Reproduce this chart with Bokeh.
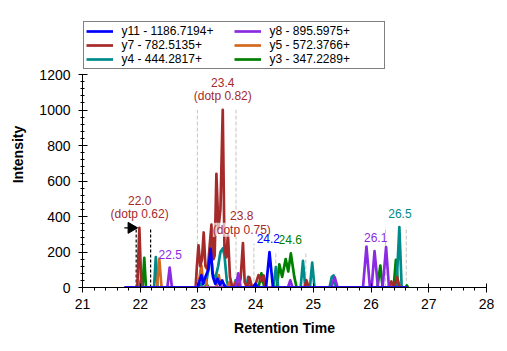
import numpy as np
from bokeh.plotting import figure
from bokeh.models import Legend, LegendItem, Label, SingleIntervalTicker, Range1d
from bokeh.embed import file_html
from bokeh.resources import INLINE

# ---------------- data ----------------
names = ["y11 - 1186.7194+", "y8 - 895.5975+", "y7 - 782.5135+",
         "y5 - 572.3766+", "y4 - 444.2817+", "y3 - 347.2289+"]
colors = ["#0000ff", "#8a2be2", "#a52a2a", "#d2691e", "#008b8b", "#008000"]

t_y11 = [21.73, 23.00, 23.03, 23.06, 23.09, 23.13, 23.18, 23.22, 23.26, 23.30, 23.34, 23.38,
         23.42, 23.46, 23.50, 23.96, 24.00, 24.04, 24.18, 24.24, 24.30, 26.64]
i_y11 = [0, 0, 40, 70, 20, 60, 100, 218, 60, 20, 50, 15,
         40, 10, 0, 0, 22, 0, 0, 199, 0, 0]

t_y8 = [21.73, 22.47, 22.51, 22.55, 22.98, 23.00, 23.03, 23.43, 23.46, 23.49, 23.65, 23.70,
        23.74, 24.56, 24.60, 24.64, 25.31, 25.37, 25.42, 25.86, 25.92, 25.98, 26.01, 26.06,
        26.12, 26.20, 26.26, 26.31, 26.64]
i_y8 = [0, 0, 112, 0, 0, 20, 0, 0, 15, 0, 0, 80,
        0, 0, 40, 0, 0, 58, 0, 0, 231, 0, 0, 205,
        0, 0, 227, 0, 0]

t_y7 = [21.73, 21.95, 21.985, 22.02, 22.96, 22.98, 23.01, 23.04, 23.07, 23.10, 23.13, 23.17,
        23.20, 23.235, 23.27, 23.29, 23.32, 23.355, 23.39, 23.43, 23.46, 23.49, 23.52, 23.555,
        23.59, 23.63, 23.66, 23.70, 23.74, 23.78, 23.81, 23.85, 23.89, 23.93, 24.00, 24.05,
        24.10, 24.14, 24.18, 24.85, 24.88, 24.92, 26.30, 26.35, 26.40, 26.45, 26.50, 26.64]
i_y7 = [0, 0, 336, 0, 0, 110, 237, 120, 160, 310, 120, 100,
        220, 355, 160, 180, 640, 330, 440, 1001, 220, 170, 300, 60,
        10, 0, 30, 0, 50, 250, 30, 0, 58, 0, 20, 70,
        35, 68, 0, 0, 40, 0, 0, 34, 0, 58, 0, 0]

t_y5 = [21.73, 22.29, 22.33, 22.37, 23.00, 23.06, 23.09, 23.13, 23.16, 23.32, 23.36, 23.40,
        23.52, 23.55, 23.58, 23.62, 23.66, 23.70, 23.86, 23.90, 23.94, 24.84, 24.88, 24.92,
        26.30, 26.34, 26.38, 26.64]
i_y5 = [0, 0, 163, 0, 0, 125, 30, 45, 0, 0, 70, 0,
        0, 30, 0, 0, 35, 0, 0, 50, 0, 0, 30, 0,
        0, 25, 0, 0]

t_y4 = [21.73, 21.99, 22.01, 22.04, 22.24, 22.27, 22.30, 22.98, 23.02, 23.06, 23.10, 23.14,
        23.18, 23.22, 23.25, 23.30, 23.35, 23.39, 23.43, 23.46, 23.50, 23.53, 23.62, 23.65,
        23.68, 23.84, 23.87, 23.90, 24.31, 24.35, 24.39, 24.78, 24.82, 24.86, 24.94, 24.98,
        25.02, 25.28, 25.32, 25.35, 25.39, 26.44, 26.49, 26.53, 26.64]
i_y4 = [0, 0, 40, 0, 0, 171, 0, 0, 30, 0, 40, 20,
        100, 250, 80, 50, 120, 200, 220, 180, 40, 0, 0, 40,
        0, 0, 60, 0, 0, 115, 0, 0, 150, 0, 0, 140,
        0, 0, 60, 68, 0, 0, 340, 0, 0]

t_y3 = [21.73, 22.04, 22.07, 22.10, 23.12, 23.15, 23.18, 24.05, 24.10, 24.15, 24.37, 24.41,
        24.46, 24.52, 24.565, 24.61, 24.67, 24.71, 26.11, 26.16, 26.20, 26.39, 26.43, 26.47,
        26.60, 26.62, 26.64]
i_y3 = [0, 0, 167, 0, 0, 20, 0, 0, 80, 0, 0, 130,
        60, 160, 90, 192, 60, 0, 0, 124, 0, 0, 156, 0,
        0, 12, 0]

series_t = [t_y11, t_y8, t_y7, t_y5, t_y4, t_y3]
series_i = [i_y11, i_y8, i_y7, i_y5, i_y4, i_y3]

# peak boundaries
bound_t = [21.93, 22.18]
bound_top = [336, 336]
other_t = [22.99, 23.66, 23.97, 24.35, 24.87, 26.25, 26.61]
other_top = [1001, 1001, 248, 199, 192, 340, 340]

# peak labels (drawn in this order)
peak_t = [21.99, 22.52, 23.43, 23.76, 24.60, 24.22, 26.08, 26.50]
peak_h = [336, 112, 1001, 250, 192, 199, 205, 340]
peak_text = ["22.0", "22.5", "23.4", "23.8", "24.6", "24.2", "26.1", "26.5"]
peak_dotp = ["0.62", "", "0.82", "0.75", "", "", "", ""]
peak_color = ["#a52a2a", "#8a2be2", "#a52a2a", "#a52a2a", "#008000", "#0000ff", "#8a2be2", "#008b8b"]

x_min, x_max = 21, 28
y_min, y_max = 0, 1200
x_ticks_interval = 1
y_ticks_interval = 200

# ---------------- layout geometry (pixels) ----------------
W, H = 507, 351
LEFT, RIGHT, TOP, BOTTOM = 82, 21, 21, 64   # frame extends up to the legend top
AXIS_TOP_PX = 74                            # where y = y_max sits
frame_h = H - TOP - BOTTOM
y_top = y_min + (y_max - y_min) * frame_h / (H - BOTTOM - AXIS_TOP_PX)

FONT = "Liberation Sans"
p = figure(width=W, height=H, x_range=Range1d(x_min, x_max), y_range=Range1d(y_min, y_top),
           output_backend="svg", toolbar_location=None,
           min_border_left=LEFT, min_border_right=RIGHT, min_border_top=TOP,
           min_border_bottom=BOTTOM)
p.xgrid.visible = False
p.ygrid.visible = False
p.outline_line_color = None
p.background_fill_color = "white"
p.border_fill_color = "white"

p.xaxis.ticker = SingleIntervalTicker(interval=x_ticks_interval, num_minor_ticks=5)
p.yaxis.ticker = SingleIntervalTicker(interval=y_ticks_interval, num_minor_ticks=5)
p.yaxis.bounds = (y_min, y_max)
for ax in (p.xaxis, p.yaxis):
    ax.axis_line_color = "black"
    ax.major_tick_line_color = "black"
    ax.minor_tick_line_color = "black"
    ax.major_label_text_font = FONT
    ax.major_label_text_font_size = "14px"
    ax.major_label_text_color = "black"
    ax.axis_label_text_font = FONT
    ax.axis_label_text_font_size = "14px"
    ax.axis_label_text_font_style = "bold"
    ax.axis_label_text_color = "black"
p.xaxis.axis_label = "Retention Time"
p.yaxis.axis_label = "Intensity"
p.xaxis.major_tick_in = 4
p.xaxis.major_tick_out = 5
p.xaxis.minor_tick_in = 0
p.xaxis.minor_tick_out = 3
p.yaxis.major_tick_in = 5
p.yaxis.major_tick_out = 4
p.yaxis.minor_tick_in = 2
p.yaxis.minor_tick_out = 2
p.xaxis.major_label_standoff = 6
p.yaxis.major_label_standoff = 8
p.xaxis.axis_label_standoff = 8
p.yaxis.axis_label_standoff = 10

# boundary lines
p.segment(x0=other_t, y0=[0] * len(other_t), x1=other_t, y1=other_top,
          line_color="#c4c4c4", line_width=1, line_dash="4 2")
p.segment(x0=bound_t, y0=[0] * len(bound_t), x1=bound_t, y1=bound_top,
          line_color="black", line_width=1.2, line_dash="3 2")

# chromatograms: first series drawn on top
renderers = {}
for k in reversed(range(len(names))):
    r = p.line(series_t[k], series_i[k], line_color=colors[k], line_width=2.7, line_join="round")
    renderers[k] = r

# flag at chosen peak start
p.segment(x0=[bound_t[0] - 0.205], y0=[bound_top[0]], x1=[bound_t[0]], y1=[bound_top[0]],
          line_color="black", line_width=1.2)
p.scatter(x=[bound_t[0] - 0.085], y=[bound_top[0]], marker="triangle", size=11,
          angle=-np.pi / 2, fill_color="black", line_color="black")

# labels
def add_label(tt, hh, off, txt, cc):
    p.add_layout(Label(x=tt, y=hh, y_offset=off, text=txt, text_align="center",
                       text_baseline="middle", text_font=FONT, text_font_size="12px",
                       text_color=cc, background_fill_color="white", background_fill_alpha=0.65))

for tt, hh, tx, dp, cc in zip(peak_t, peak_h, peak_text, peak_dotp, peak_color):
    if dp:
        add_label(tt, hh, 13.5, "(dotp %s)" % dp, cc)
        add_label(tt, hh, 27.5, tx, cc)
    else:
        add_label(tt, hh, 13.5, tx, cc)

# legend (column-major order to get row-wise y11,y8 / y7,y5 / y4,y3)
order = [0, 2, 4, 1, 3, 5]
items = [LegendItem(label=names[k], renderers=[renderers[k]]) for k in order]
legend = Legend(items=items, location=(0.5, H - BOTTOM - 67 - 2), ncols=2, orientation="vertical",
                label_text_font=FONT, label_text_font_size="12px", label_text_color="black",
                glyph_width=27, glyph_height=12, label_height=12, label_width=112,
                label_standoff=9, spacing=0, padding=2, margin=0,
                border_line_color="black", border_line_width=1,
                background_fill_color="white", background_fill_alpha=1.0)
p.add_layout(legend)

open("out.html", "w").write(file_html(p, INLINE))
